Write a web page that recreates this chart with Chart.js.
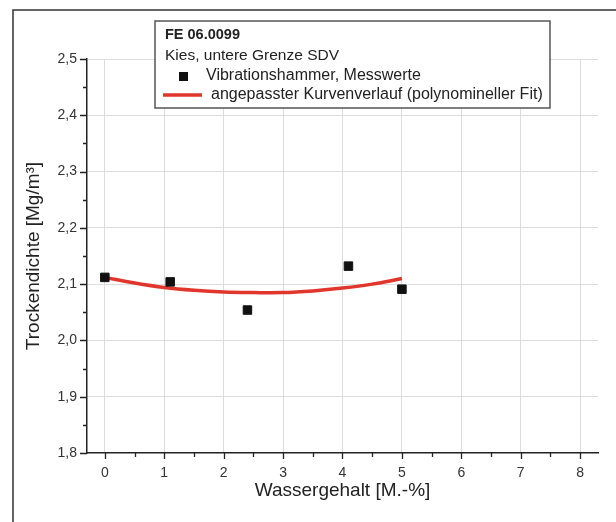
<!DOCTYPE html>
<html>
<head>
<meta charset="utf-8">
<script src="https://cdn.jsdelivr.net/npm/chart.js@4/dist/chart.umd.min.js"></script>
<style>
  html, body { margin: 0; padding: 0; background: #fff; }
  #wrap { width: 616px; height: 522px; position: relative; }
</style>
</head>
<body>
<div id="wrap"><canvas id="c" width="616" height="522"></canvas></div>
<script>
// Legend header lines and series names
const legendTitle = ['FE 06.0099', 'Kies, untere Grenze SDV'];
const measuredLabel = 'Vibrationshammer, Messwerte';
const fitLabel = 'angepasster Kurvenverlauf (polynomineller Fit)';

// Measured values: water content [M.-%] and dry density [Mg/m³]
const waterContent = [0, 1.1, 2.4, 4.1, 5.0];
const dryDensity = [2.112, 2.104, 2.054, 2.132, 2.091];

// Polynomial fit curve, sampled along the water content range
const fitX = [0, 0.5, 1, 1.5, 2, 2.5, 3, 3.5, 4, 4.5, 5];
const fitY = [2.112, 2.102, 2.094, 2.089, 2.086, 2.085, 2.085, 2.088, 2.093, 2.100, 2.110];

// Axis ticks
const xTicks = [0, 1, 2, 3, 4, 5, 6, 7, 8];
const yTicks = [1.8, 1.9, 2.0, 2.1, 2.2, 2.3, 2.4, 2.5];

const FONT = "'Liberation Sans', Arial, Helvetica, sans-serif";
const INK = '#222';
const FIT_RED = '#e0362c';

function midpoints(arr) {
  const out = [];
  for (let i = 0; i < arr.length - 1; i++) out.push((arr[i] + arr[i + 1]) / 2);
  return out;
}

// Outer frame, outward tick marks (major + minor) and the boxed legend
const decorations = {
  id: 'decorations',
  afterDraw(chart) {
    const ctx = chart.ctx;
    const xs = chart.scales.x, ys = chart.scales.y;
    const area = chart.chartArea;
    ctx.save();

    // frame lines along the left and top
    ctx.strokeStyle = '#333';
    ctx.lineWidth = 1.5;
    ctx.beginPath();
    ctx.moveTo(13, 522); ctx.lineTo(13, 10); ctx.lineTo(616, 10);
    ctx.stroke();

    // tick marks
    ctx.strokeStyle = INK;
    ctx.lineWidth = 1.3;
    ctx.beginPath();
    xTicks.forEach(v => { const px = Math.round(xs.getPixelForValue(v)) + 0.5; ctx.moveTo(px, area.bottom); ctx.lineTo(px, area.bottom + 6); });
    midpoints(xTicks).forEach(v => { const px = Math.round(xs.getPixelForValue(v)) + 0.5; ctx.moveTo(px, area.bottom); ctx.lineTo(px, area.bottom + 4); });
    yTicks.forEach(v => { const py = Math.round(ys.getPixelForValue(v)) + 0.5; ctx.moveTo(area.left, py); ctx.lineTo(area.left - 7, py); });
    midpoints(yTicks).forEach(v => { const py = Math.round(ys.getPixelForValue(v)) + 0.5; ctx.moveTo(area.left, py); ctx.lineTo(area.left - 4, py); });
    ctx.stroke();

    // legend box
    const bx = 155, by = 21, bw = 395, bh = 87;
    ctx.fillStyle = '#fff';
    ctx.fillRect(bx, by, bw, bh);
    ctx.strokeStyle = '#555';
    ctx.lineWidth = 1.5;
    ctx.strokeRect(bx, by, bw, bh);

    ctx.textBaseline = 'middle';
    ctx.textAlign = 'left';
    ctx.fillStyle = INK;
    ctx.font = 'bold 14.5px ' + FONT;
    ctx.fillText(legendTitle[0], 165, 35);
    ctx.font = '15.5px ' + FONT;
    ctx.fillText(legendTitle[1], 165, 56);

    // marker entry
    ctx.fillStyle = '#111';
    ctx.fillRect(179, 72, 9, 9);
    ctx.fillStyle = INK;
    ctx.font = '16px ' + FONT;
    ctx.fillText(measuredLabel, 206, 76);

    // fit line entry
    ctx.strokeStyle = FIT_RED;
    ctx.lineWidth = 3.5;
    ctx.beginPath();
    ctx.moveTo(163, 95); ctx.lineTo(202, 95);
    ctx.stroke();
    ctx.fillText(fitLabel, 211, 95);

    ctx.restore();
  }
};

new Chart(document.getElementById('c'), {
  type: 'scatter',
  data: {
    datasets: [
      {
        label: measuredLabel,
        data: waterContent.map((x, i) => ({ x, y: dryDensity[i] })),
        pointStyle: 'rect',
        pointRadius: 6,
        backgroundColor: '#111',
        borderColor: '#111',
        borderWidth: 1
      },
      {
        label: fitLabel,
        data: fitX.map((x, i) => ({ x, y: fitY[i] })),
        showLine: true,
        tension: 0.4,
        pointRadius: 0,
        borderColor: FIT_RED,
        borderWidth: 3.5,
        fill: false
      }
    ]
  },
  options: {
    responsive: false,
    animation: false,
    layout: { padding: { left: 0, right: 18, top: 59, bottom: 0 } },
    plugins: { legend: { display: false }, tooltip: { enabled: false } },
    scales: {
      x: {
        type: 'linear',
        min: -0.3,
        max: 8.3,
        afterBuildTicks: s => { s.ticks = xTicks.map(v => ({ value: v })); },
        afterFit: s => { s.height = 69; },
        grid: { color: '#dcdcdc', lineWidth: 1, drawTicks: false },
        border: { display: true, color: INK, width: 1.5 },
        ticks: { color: '#333', padding: 12, font: { family: FONT, size: 14 }, callback: v => String(v) },
        title: {
          display: true,
          text: 'Wassergehalt [M.-%]',
          color: INK,
          font: { family: FONT, size: 19 },
          padding: { top: 0, bottom: 20 }
        }
      },
      y: {
        type: 'linear',
        min: 1.8,
        max: 2.5,
        afterBuildTicks: s => { s.ticks = yTicks.map(v => ({ value: v })); },
        afterFit: s => { s.width = 87; },
        grid: { color: c => (c.tick && c.tick.value === 1.8 ? 'rgba(0,0,0,0)' : '#dcdcdc'), lineWidth: 1, drawTicks: false },
        border: { display: true, color: INK, width: 1.5 },
        ticks: { color: '#333', padding: 10, font: { family: FONT, size: 14 }, callback: v => Number(v).toFixed(1).replace('.', ',') },
        title: {
          display: true,
          text: 'Trockendichte [Mg/m³]',
          color: INK,
          font: { family: FONT, size: 19 },
          padding: { top: 22, bottom: 0 }
        }
      }
    }
  },
  plugins: [decorations]
});
</script>
</body>
</html>
